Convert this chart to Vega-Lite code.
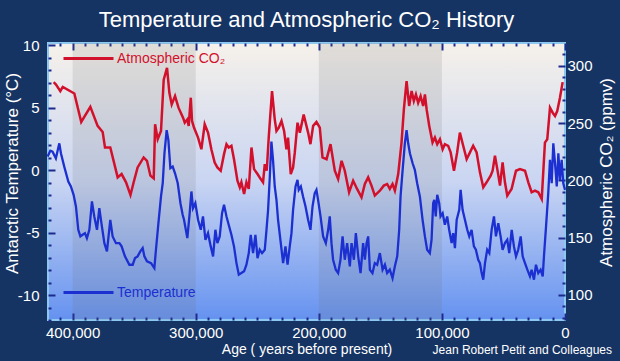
{
  "$schema": "https://vega.github.io/schema/vega-lite/v6.json",
  "width": 517,
  "height": 277,
  "autosize": {"type": "none"},
  "padding": {"left": 48, "top": 43, "right": 55, "bottom": 41},
  "background": "#163463",
  "title": {"text": "Temperature and Atmospheric CO₂ History", "color": "white", "fontSize": 22, "font": "Liberation Sans", "fontWeight": "normal", "anchor": "middle", "offset": 0},
  "config": {
    "view": {
      "fill": {"gradient": "linear", "x1": 0, "y1": 0, "x2": 0, "y2": 1, "stops": [{"offset": 0, "color": "#f6f1ea"}, {"offset": 0.5, "color": "#c9d5f2"}, {"offset": 1, "color": "#6592f0"}]},
      "stroke": "#8cc8f0",
      "strokeWidth": 2
    },
    "axis": {"labelColor": "white", "labelFont": "Liberation Sans", "labelFontSize": 15, "titleColor": "white", "titleFont": "Liberation Sans", "titleFontWeight": "normal", "titleFontSize": 17, "tickColor": "#1c2a8c", "tickWidth": 2, "domain": false, "grid": false, "labelOverlap": false, "labelFlush": false},
    "legend": {"labelFont": "Liberation Sans"}
  },
  "datasets": {
    "bands": [{"start": 400000, "end": 300000}, {"start": 200000, "end": 100000}],
    "co2": [
      {"age":415400,"co2":285.8},{"age":413500,"co2":283.7},{"age":410000,"co2":278},{"age":408000,"co2":281.7},{"age":398600,"co2":275.9},{"age":393000,"co2":251},{"age":385600,"co2":264.3},{"age":379700,"co2":247.6},{"age":375600,"co2":242.3},{"age":373700,"co2":228.7},{"age":369400,"co2":228.7},{"age":363400,"co2":202.6},{"age":360200,"co2":205.5},{"age":356600,"co2":198.3},{"age":353000,"co2":187.2},{"age":350400,"co2":198.3},{"age":347200,"co2":211.3},{"age":342300,"co2":220},{"age":339600,"co2":217.1},{"age":336800,"co2":204.1},{"age":334100,"co2":201.7},{"age":333000,"co2":249},{"age":330900,"co2":236},{"age":328200,"co2":243.2},{"age":326000,"co2":288},{"age":323300,"co2":298.3},{"age":321400,"co2":276.5},{"age":319500,"co2":266.4},{"age":316800,"co2":273.6},{"age":314000,"co2":263.5},{"age":310300,"co2":254.8},{"age":308900,"co2":250.4},{"age":306800,"co2":253.3},{"age":305700,"co2":247.6},{"age":304000,"co2":272.2},{"age":303000,"co2":251.9},{"age":301400,"co2":246.1},{"age":298100,"co2":237.4},{"age":295400,"co2":227.2},{"age":292700,"co2":249},{"age":290000,"co2":241.7},{"age":287300,"co2":227.2},{"age":284600,"co2":215.6},{"age":282400,"co2":211.3},{"age":279700,"co2":208.4},{"age":277000,"co2":222.9},{"age":275000,"co2":231.6},{"age":273200,"co2":228.7},{"age":271000,"co2":230.2},{"age":268900,"co2":218.5},{"age":266100,"co2":199.7},{"age":264200,"co2":193.9},{"age":262900,"co2":198.3},{"age":260700,"co2":188.1},{"age":258800,"co2":198.3},{"age":256900,"co2":192.5},{"age":254700,"co2":228.7},{"age":252600,"co2":209.8},{"age":249800,"co2":205.5},{"age":247200,"co2":201.1},{"age":245300,"co2":198.3},{"age":243900,"co2":214.2},{"age":242300,"co2":208.4},{"age":240600,"co2":238.9},{"age":238000,"co2":278},{"age":235800,"co2":253.3},{"age":234400,"co2":243.2},{"age":232500,"co2":246.1},{"age":230300,"co2":251.9},{"age":228200,"co2":243.2},{"age":226300,"co2":227.2},{"age":225000,"co2":237.4},{"age":222800,"co2":205.5},{"age":220900,"co2":211.3},{"age":219500,"co2":224.4},{"age":217300,"co2":250.4},{"age":215400,"co2":241.7},{"age":212300,"co2":257.6},{"age":208700,"co2":241.7},{"age":206800,"co2":231.6},{"age":204600,"co2":247.6},{"age":201900,"co2":251},{"age":199200,"co2":246.1},{"age":197000,"co2":220},{"age":193700,"co2":218.5},{"age":190500,"co2":231.6},{"age":187000,"co2":208.4},{"age":184300,"co2":201.1},{"age":181500,"co2":217.1},{"age":178900,"co2":208.4},{"age":175400,"co2":189.6},{"age":172100,"co2":199.7},{"age":168900,"co2":192.5},{"age":165300,"co2":185.2},{"age":162600,"co2":196.8},{"age":159900,"co2":202.6},{"age":157200,"co2":195.4},{"age":154500,"co2":186.7},{"age":150400,"co2":191},{"age":147200,"co2":195.4},{"age":144500,"co2":196.8},{"age":142300,"co2":192.5},{"age":140100,"co2":196.8},{"age":138200,"co2":191},{"age":135500,"co2":205.5},{"age":132800,"co2":233},{"age":130900,"co2":262},{"age":128700,"co2":286.7},{"age":126600,"co2":265},{"age":124600,"co2":278},{"age":122800,"co2":269.3},{"age":121100,"co2":275.1},{"age":119300,"co2":267.8},{"age":117300,"co2":273.6},{"age":115200,"co2":265},{"age":113800,"co2":275.1},{"age":112400,"co2":262},{"age":110300,"co2":247.6},{"age":107600,"co2":233},{"age":105700,"co2":237.4},{"age":103800,"co2":231.6},{"age":101600,"co2":235.9},{"age":99400,"co2":227.2},{"age":97600,"co2":231.6},{"age":94900,"co2":230.2},{"age":92900,"co2":224.4},{"age":90200,"co2":208.4},{"age":87600,"co2":224.4},{"age":85400,"co2":241.7},{"age":82700,"co2":230.2},{"age":79900,"co2":218.5},{"age":77200,"co2":224.4},{"age":74600,"co2":230.2},{"age":71800,"co2":224.4},{"age":69100,"co2":207},{"age":66400,"co2":193.9},{"age":63700,"co2":198.3},{"age":60400,"co2":204.1},{"age":58800,"co2":208.4},{"age":56900,"co2":221.5},{"age":55000,"co2":209.8},{"age":52800,"co2":195.4},{"age":50700,"co2":215.6},{"age":48800,"co2":198.3},{"age":46900,"co2":186.7},{"age":43400,"co2":192.5},{"age":39800,"co2":208.4},{"age":36600,"co2":209.8},{"age":32500,"co2":208.4},{"age":29800,"co2":198.3},{"age":27100,"co2":189.6},{"age":24400,"co2":191},{"age":21700,"co2":189.6},{"age":18900,"co2":183.7},{"age":16300,"co2":233},{"age":14400,"co2":235.9},{"age":12200,"co2":263.5},{"age":10000,"co2":259.1},{"age":8100,"co2":256.3},{"age":6300,"co2":260.6},{"age":4100,"co2":272.2},{"age":1900,"co2":285.8}
    ],
    "temp": [
      {"age":420300,"t":1.1},{"age":418100,"t":1.57},{"age":416300,"t":1.49},{"age":413600,"t":0.96},{"age":410800,"t":2.16},{"age":409500,"t":1.36},{"age":406800,"t":0.29},{"age":403500,"t":-0.9},{"age":401400,"t":-1.3},{"age":399200,"t":-1.97},{"age":397300,"t":-2.9},{"age":395400,"t":-4.77},{"age":393700,"t":-5.3},{"age":391900,"t":-5.17},{"age":390000,"t":-5.04},{"age":388400,"t":-5.44},{"age":386400,"t":-4.77},{"age":384300,"t":-2.5},{"age":382400,"t":-3.7},{"age":380200,"t":-4.77},{"age":378300,"t":-3.04},{"age":376400,"t":-4.37},{"age":374200,"t":-5.84},{"age":372100,"t":-6.5},{"age":369400,"t":-3.97},{"age":367500,"t":-5.3},{"age":364800,"t":-5.84},{"age":362000,"t":-5.84},{"age":360200,"t":-6.1},{"age":357500,"t":-6.9},{"age":353900,"t":-7.57},{"age":351200,"t":-7.57},{"age":349300,"t":-7.04},{"age":347200,"t":-6.9},{"age":345000,"t":-6.5},{"age":343100,"t":-6.24},{"age":341700,"t":-6.9},{"age":339600,"t":-7.3},{"age":336300,"t":-7.44},{"age":333600,"t":-7.84},{"age":332300,"t":-6.37},{"age":330300,"t":-4.24},{"age":328200,"t":-2.1},{"age":326800,"t":-1.04},{"age":325400,"t":1.36},{"age":323600,"t":3.22},{"age":322200,"t":2.42},{"age":320600,"t":0.16},{"age":318700,"t":0.29},{"age":316800,"t":-0.24},{"age":314600,"t":-1.04},{"age":312400,"t":-2.64},{"age":310600,"t":-3.57},{"age":309500,"t":-3.97},{"age":306800,"t":-5.44},{"age":304900,"t":-3.44},{"age":303500,"t":-1.7},{"age":302200,"t":-3.04},{"age":300300,"t":-2.64},{"age":298100,"t":-3.97},{"age":295900,"t":-4.77},{"age":294100,"t":-3.7},{"age":292100,"t":-5.57},{"age":290000,"t":-5.04},{"age":287800,"t":-6.1},{"age":285900,"t":-6.9},{"age":284000,"t":-4.77},{"age":282400,"t":-5.84},{"age":280500,"t":-5.3},{"age":278600,"t":-3.44},{"age":277000,"t":-2.77},{"age":275000,"t":-3.7},{"age":273200,"t":-4.37},{"age":271000,"t":-5.17},{"age":268900,"t":-6.1},{"age":266900,"t":-7.44},{"age":265000,"t":-8.37},{"age":262900,"t":-8.24},{"age":260700,"t":-8.1},{"age":258800,"t":-7.57},{"age":256900,"t":-6.64},{"age":255300,"t":-5.17},{"age":253400,"t":-6.64},{"age":251500,"t":-5.17},{"age":249800,"t":-7.04},{"age":248000,"t":-6.37},{"age":246100,"t":-6.64},{"age":243900,"t":-6.37},{"age":242500,"t":-4.77},{"age":241200,"t":-3.17},{"age":239800,"t":-0.5},{"age":238500,"t":2.3},{"age":237200,"t":0.83},{"age":235800,"t":-1.3},{"age":234400,"t":-2.37},{"age":233100,"t":-3.97},{"age":230900,"t":-5.84},{"age":229000,"t":-7.44},{"age":227100,"t":-6.1},{"age":225400,"t":-7.57},{"age":223600,"t":-6.1},{"age":222200,"t":-5.04},{"age":220900,"t":-3.17},{"age":218900,"t":-1.3},{"age":217300,"t":-0.77},{"age":216300,"t":-1.57},{"age":214600,"t":-1.3},{"age":212800,"t":-2.1},{"age":210800,"t":-2.9},{"age":208700,"t":-3.97},{"age":206800,"t":-4.77},{"age":205100,"t":-2.9},{"age":203300,"t":-1.84},{"age":201900,"t":-1.57},{"age":200600,"t":-2.37},{"age":198600,"t":-3.7},{"age":196500,"t":-5.3},{"age":194300,"t":-5.84},{"age":192400,"t":-4.77},{"age":191100,"t":-3.7},{"age":189700,"t":-5.84},{"age":188400,"t":-7.17},{"age":186200,"t":-7.97},{"age":184300,"t":-8.24},{"age":182400,"t":-7.17},{"age":180700,"t":-5.3},{"age":178900,"t":-7.17},{"age":177000,"t":-5.84},{"age":174800,"t":-7.7},{"age":173400,"t":-5.84},{"age":171500,"t":-7.17},{"age":169900,"t":-5.04},{"age":168000,"t":-6.9},{"age":166100,"t":-8.24},{"age":164000,"t":-5.84},{"age":162600,"t":-7.17},{"age":161200,"t":-5.84},{"age":159900,"t":-5.3},{"age":158500,"t":-7.97},{"age":156400,"t":-8.24},{"age":154500,"t":-7.44},{"age":152600,"t":-7.57},{"age":150400,"t":-6.64},{"age":148200,"t":-7.97},{"age":146300,"t":-7.57},{"age":144500,"t":-8.24},{"age":142300,"t":-7.97},{"age":140100,"t":-8.64},{"age":138200,"t":-7.7},{"age":136300,"t":-6.9},{"age":134700,"t":-4.77},{"age":133600,"t":-2.1},{"age":131900,"t":0.03},{"age":130100,"t":2.16},{"age":128700,"t":3.22},{"age":127400,"t":2.16},{"age":126000,"t":1.36},{"age":123800,"t":0.56},{"age":122000,"t":0.03},{"age":120100,"t":-1.04},{"age":117900,"t":-2.1},{"age":115700,"t":-3.97},{"age":113800,"t":-5.3},{"age":112000,"t":-6.37},{"age":109800,"t":-6.64},{"age":108400,"t":-5.57},{"age":107100,"t":-2.64},{"age":106200,"t":-2.37},{"age":105000,"t":-3.7},{"age":103800,"t":-1.97},{"age":102200,"t":-2.64},{"age":101100,"t":-3.7},{"age":99400,"t":-3.44},{"age":97600,"t":-4.37},{"age":95700,"t":-3.7},{"age":94100,"t":-4.77},{"age":92100,"t":-5.84},{"age":90800,"t":-5.04},{"age":89400,"t":-6.24},{"age":88000,"t":-3.97},{"age":85900,"t":-3.17},{"age":84800,"t":-1.57},{"age":83200,"t":-3.17},{"age":81300,"t":-3.97},{"age":79400,"t":-4.77},{"age":77800,"t":-5.3},{"age":75900,"t":-4.77},{"age":74000,"t":-6.1},{"age":72400,"t":-6.37},{"age":70500,"t":-7.17},{"age":69100,"t":-7.44},{"age":67700,"t":-8.24},{"age":66400,"t":-8.77},{"age":65000,"t":-7.44},{"age":63200,"t":-6.37},{"age":61500,"t":-6.64},{"age":59600,"t":-4.77},{"age":57700,"t":-3.7},{"age":56100,"t":-5.3},{"age":54200,"t":-4.24},{"age":52300,"t":-5.3},{"age":50700,"t":-6.37},{"age":48800,"t":-5.84},{"age":46900,"t":-5.57},{"age":45300,"t":-6.64},{"age":43300,"t":-4.77},{"age":41500,"t":-6.1},{"age":39800,"t":-6.9},{"age":38000,"t":-6.37},{"age":36000,"t":-5.3},{"age":34400,"t":-6.9},{"age":32500,"t":-7.44},{"age":30600,"t":-7.97},{"age":28500,"t":-8.5},{"age":27100,"t":-7.97},{"age":25200,"t":-8.77},{"age":23600,"t":-7.57},{"age":21700,"t":-8.24},{"age":19800,"t":-7.97},{"age":18100,"t":-8.5},{"age":17100,"t":-6.9},{"age":15400,"t":-4.5},{"age":13600,"t":-1.84},{"age":12200,"t":0.83},{"age":10800,"t":-1.04},{"age":9500,"t":2.16},{"age":8100,"t":0.56},{"age":6700,"t":-1.3},{"age":5400,"t":1.36},{"age":4100,"t":-0.77},{"age":2700,"t":0.83},{"age":1400,"t":-1.04},{"age":0,"t":-1.57}
    ],
    "credit": [{"text": "Jean Robert Petit and Colleagues"}]
  },
  "layer": [
    {
      "data": {"name": "bands"},
      "mark": {"type": "rect", "color": "#6b6b6b", "opacity": 0.15},
      "encoding": {
        "x": {"field": "start", "type": "quantitative", "scale": {"domain": [0, 420000], "reverse": true, "nice": false, "zero": false},
          "axis": {"orient": "bottom", "values": [0,10000,20000,30000,40000,50000,60000,70000,80000,90000,100000,110000,120000,130000,140000,150000,160000,170000,180000,190000,200000,210000,220000,230000,240000,250000,260000,270000,280000,290000,300000,310000,320000,330000,340000,350000,360000,370000,380000,390000,400000,410000],
            "labelExpr": "datum.value % 100000 === 0 ? format(datum.value, ',') : ''",
            "tickSize": {"condition": {"test": "datum.value % 100000 === 0", "value": -7}, "value": -3},
            "labelPadding": 12, "title": "Age ( years before present)", "titleFontSize": 14, "titleY": 29, "titleBaseline": "middle"}},
        "x2": {"field": "end"}
      }
    },
    {
      "data": {"name": "co2"},
      "mark": {"type": "line", "strokeWidth": 2.5},
      "encoding": {
        "x": {"field": "age", "type": "quantitative",
          "axis": {"orient": "top", "values": [0,10000,20000,30000,40000,50000,60000,70000,80000,90000,100000,110000,120000,130000,140000,150000,160000,170000,180000,190000,200000,210000,220000,230000,240000,250000,260000,270000,280000,290000,300000,310000,320000,330000,340000,350000,360000,370000,380000,390000,400000,410000],
            "labels": false, "title": null,
            "tickSize": {"condition": {"test": "datum.value % 100000 === 0", "value": -7}, "value": -3}}},
        "y": {"field": "co2", "type": "quantitative", "scale": {"domain": [78, 320], "nice": false, "zero": false},
          "axis": {"orient": "right", "values": [80,90,100,110,120,130,140,150,160,170,180,190,200,210,220,230,240,250,260,270,280,290,300,310],
            "labelExpr": "datum.value % 50 === 0 ? datum.value : ''",
            "tickSize": {"condition": {"test": "datum.value % 50 === 0", "value": -7}, "value": -3},
            "labelPadding": 9, "title": "Atmospheric CO₂ (ppmv)", "titleAngle": 270, "titleX": 41, "titleY": 129, "titleBaseline": "middle", "titleAlign": "center"}},
        "color": {"datum": "Atmospheric CO₂", "type": "nominal", "scale": {"range": ["#d3102b"]},
          "legend": {"orient": "none", "legendX": 14, "legendY": -11, "title": null, "symbolType": "stroke", "symbolSize": 2500, "symbolStrokeWidth": 3, "labelColor": "#d3102b", "labelFontSize": 14, "labelOffset": 2, "padding": 0}}
      }
    },
    {
      "data": {"name": "temp"},
      "mark": {"type": "line", "strokeWidth": 2.3},
      "encoding": {
        "x": {"field": "age", "type": "quantitative", "axis": null},
        "y": {"field": "t", "type": "quantitative", "scale": {"domain": [-12, 10.2], "nice": false, "zero": false},
          "axis": {"orient": "left", "values": [-12,-11,-10,-9,-8,-7,-6,-5,-4,-3,-2,-1,0,1,2,3,4,5,6,7,8,9,10],
            "labelExpr": "datum.value % 5 === 0 ? datum.value : ''",
            "tickSize": {"condition": {"test": "datum.value % 5 === 0", "value": -7}, "value": -3},
            "labelPadding": 16, "title": "Antarctic Temperature (°C)", "titleAngle": 270, "titleX": -36, "titleY": 130, "titleBaseline": "middle", "titleAlign": "center"}},
        "color": {"datum": "Temperature", "type": "nominal", "scale": {"range": ["#1c2fd0"]},
          "legend": {"orient": "none", "legendX": 14, "legendY": 223, "title": null, "symbolType": "stroke", "symbolSize": 2500, "symbolStrokeWidth": 3, "labelColor": "#1c2fd0", "labelFontSize": 14, "labelOffset": 2, "padding": 0}}
      }
    },
    {
      "data": {"name": "credit"},
      "mark": {"type": "text", "color": "white", "font": "Liberation Sans", "fontSize": 12, "align": "right", "baseline": "middle", "dx": 47},
      "encoding": {
        "text": {"field": "text"},
        "x": {"datum": 0, "type": "quantitative", "axis": null},
        "y": {"datum": -14.4, "type": "quantitative", "scale": {"domain": [-12, 10.2], "nice": false, "zero": false}, "axis": null}
      }
    }
  ],
  "resolve": {"scale": {"y": "independent", "color": "independent"}, "axis": {"x": "independent", "y": "independent"}, "legend": {"color": "independent"}}
}
